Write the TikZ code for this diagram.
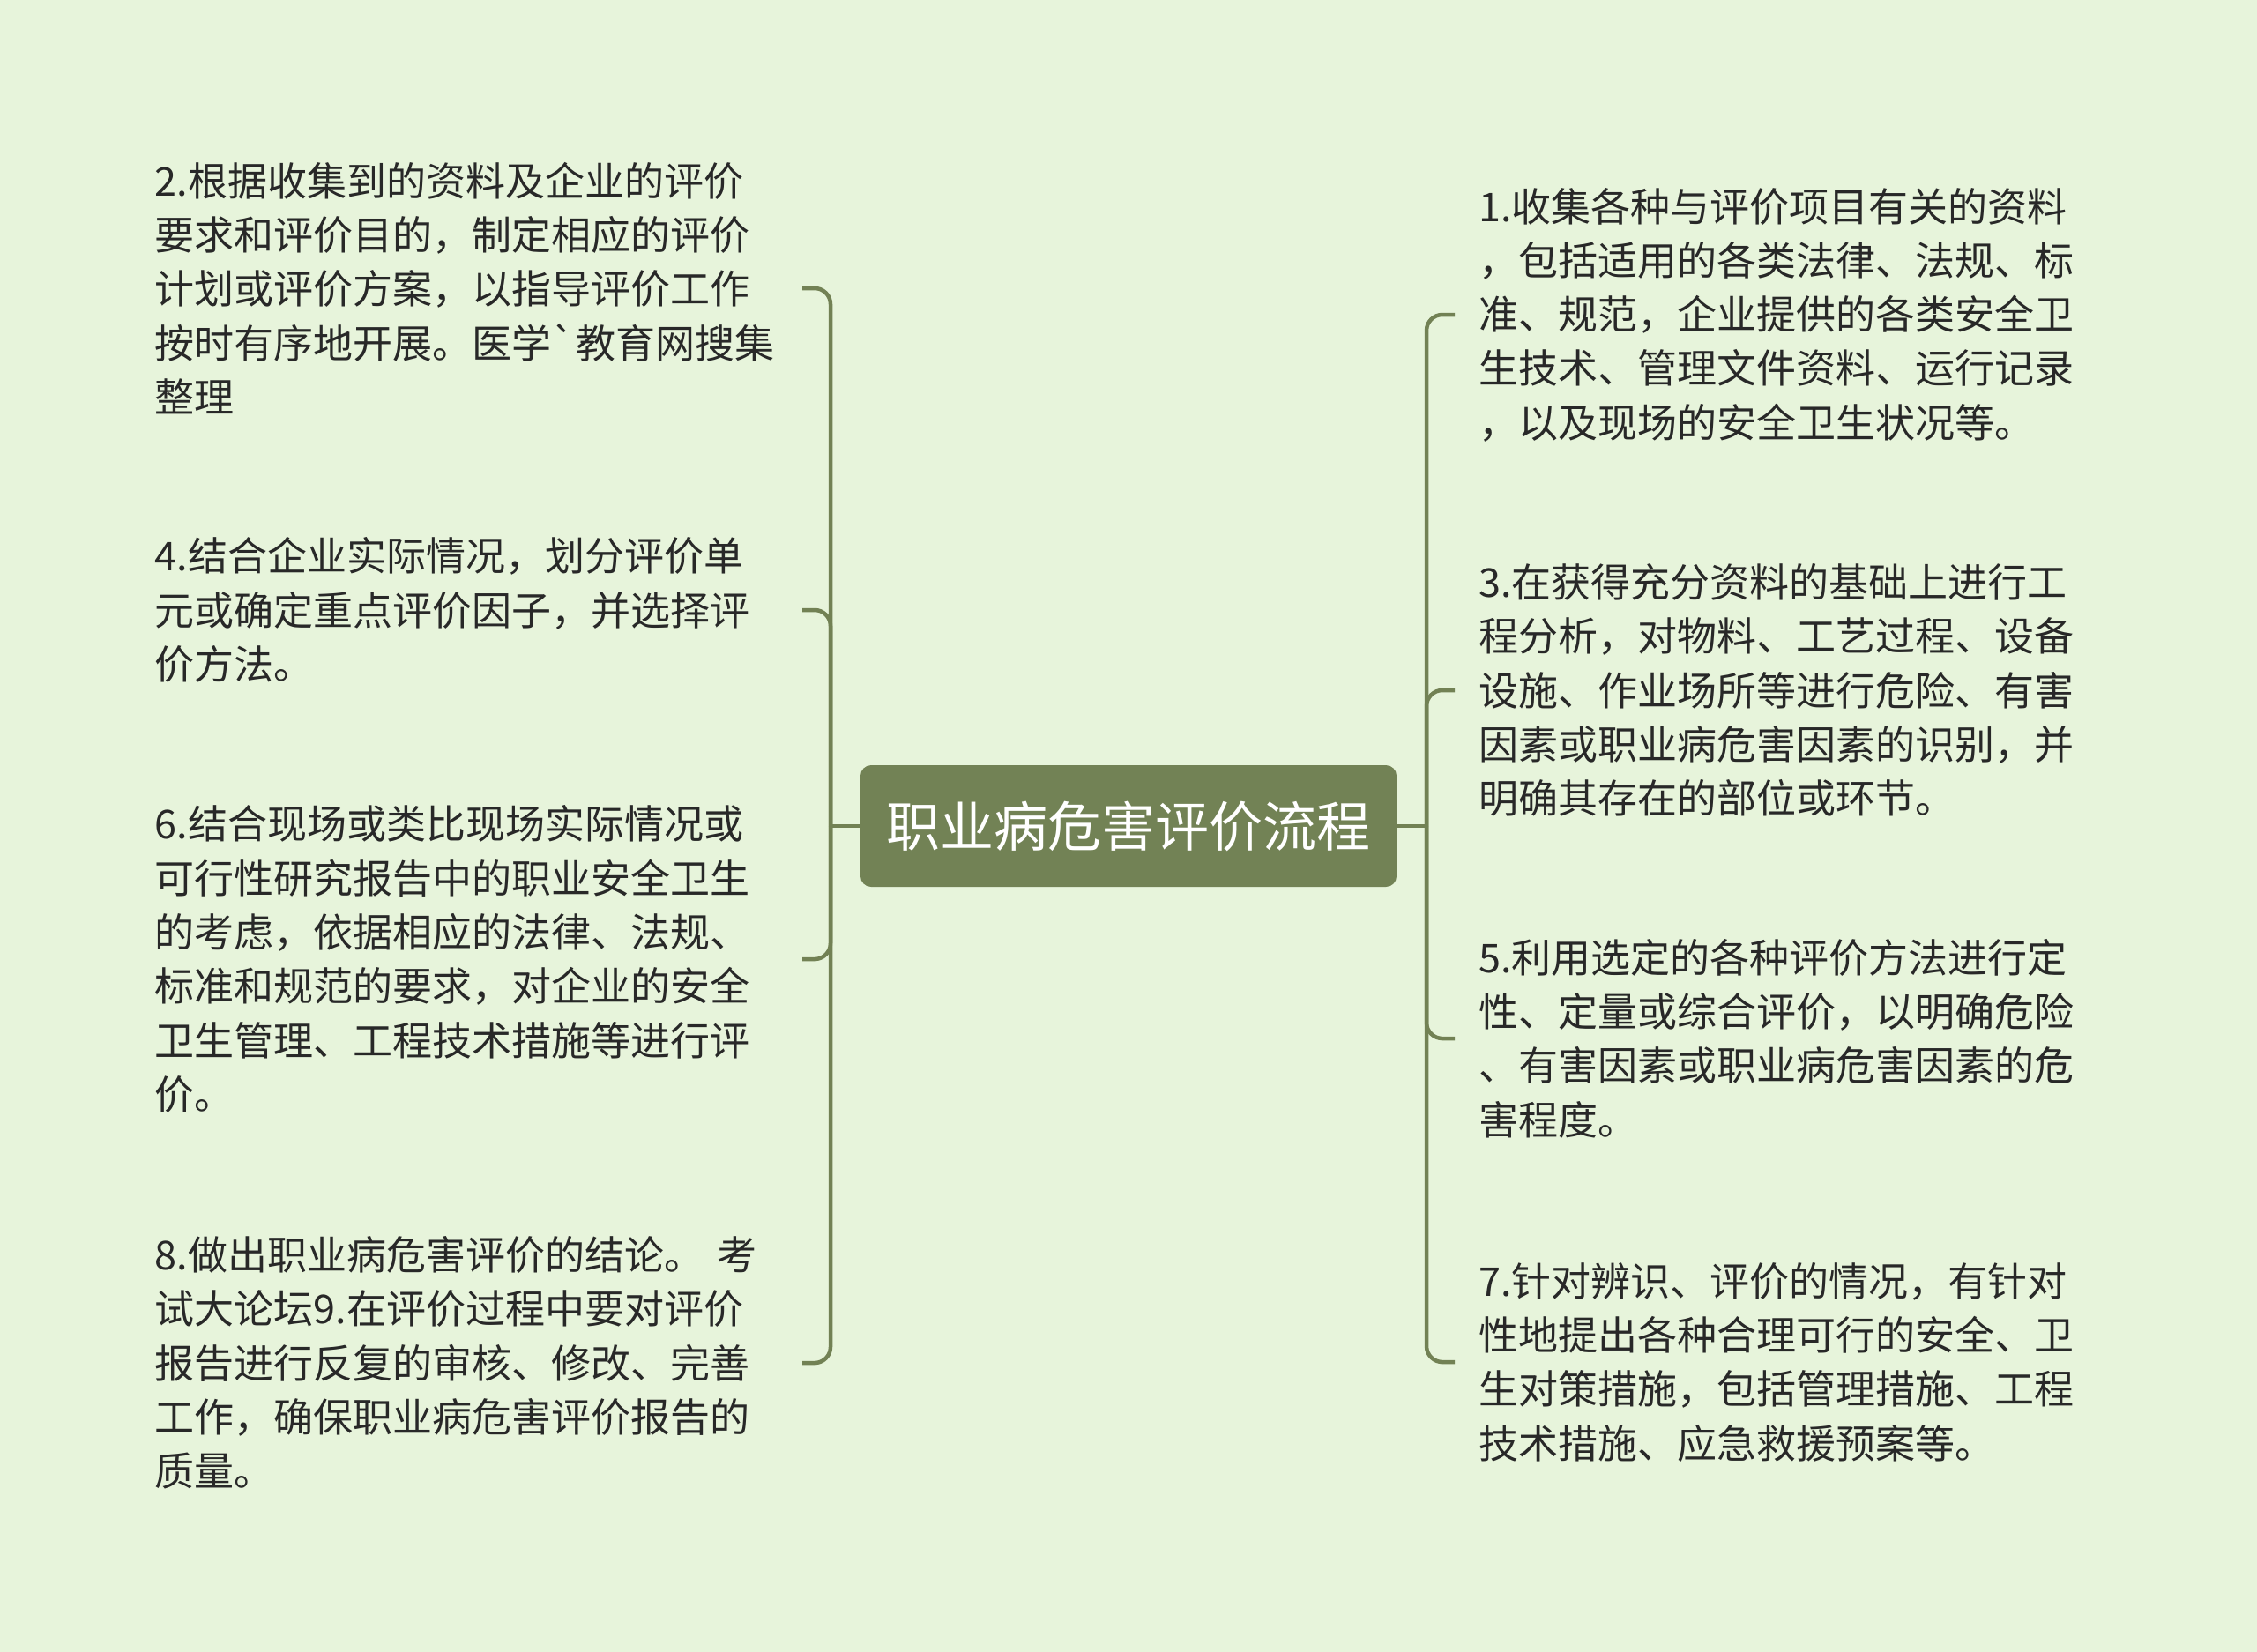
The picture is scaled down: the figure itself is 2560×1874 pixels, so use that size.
\documentclass[tikz,border=0pt]{standalone}
\usepackage{fontspec}
\newfontfamily\cjk{Noto Sans CJK SC}
\definecolor{bgcol}{RGB}{231,244,219}
\definecolor{linecol}{RGB}{114,129,84}
\definecolor{boxcol}{RGB}{114,130,85}
\definecolor{txtcol}{RGB}{40,40,40}
\begin{document}
\begin{tikzpicture}[x=1pt,y=-1pt,
  conn/.style={draw=linecol,line width=4.5pt,rounded corners=18pt},
  stub/.style={draw=linecol,line width=4.5pt},
  titlebox/.style={fill=boxcol,rounded corners=12pt,minimum width=608pt,minimum height=138pt,
    inner sep=0pt,text=white,font=\cjk\fontsize{61}{74}\selectfont},
  lefttext/.style={anchor=east,inner sep=0pt,text width=734pt,align=left,text=txtcol,
    font=\cjk\fontsize{45}{61.3}\selectfont},
  righttext/.style={anchor=west,inner xsep=27pt,inner ysep=0pt,align=left,text=txtcol,
    font=\cjk\fontsize{45}{61.3}\selectfont}
]
\useasboundingbox (0,0) rectangle (2560,1874);
\fill[bgcol] (0,0) rectangle (2560,1874);

\node[titlebox] (title) at (1280,937) {职业病危害评价流程};

\coordinate (lj) at (942,937);
\coordinate (rj) at (1618,937);

% left texts
\node[lefttext] (L2) at (910,327) {2.根据收集到的资料及企业的评价\\要求和评价目的，制定相应的评价\\计划或评价方案，以指导评价工作\\按时有序地开展。医学`教育网搜集\\整理};
\node[lefttext] (L4) at (910,692) {4.结合企业实际情况，划分评价单\\元或确定重点评价因子，并选择评\\价方法。};
\node[lefttext] (L6) at (910,1088) {6.结合现场或类比现场实际情况或\\可行性研究报告中的职业安全卫生\\的考虑，依据相应的法律、法规、\\标准和规范的要求，对企业的安全\\卫生管理、工程技术措施等进行评\\价。};
\node[lefttext] (L8) at (910,1546) {8.做出职业病危害评价的结论。 考\\试大论坛9.在评价过程中要对评价\\报告进行反复的审核、修改、完善\\工作，确保职业病危害评价报告的\\质量。};

% right texts
\node[righttext] (R1) at (1650,357) {1.收集各种与评价项目有关的资料\\，包括适用的各类法律、法规、标\\准、规范，企业提供的各类安全卫\\生技术、管理文件资料、运行记录\\，以及现场的安全卫生状况等。};
\node[righttext] (R3) at (1650,783) {3.在获得充分资料的基础上进行工\\程分析，对物料、工艺过程、设备\\设施、作业场所等进行危险、有害\\因素或职业病危害因素的识别，并\\明确其存在的部位或环节。};
\node[righttext] (R5) at (1650,1178) {5.利用选定的各种评价方法进行定\\性、定量或综合评价，以明确危险\\、有害因素或职业病危害因素的危\\害程度。};
\node[righttext] (R7) at (1650,1545) {7.针对辨识、评价的情况，有针对\\性地提出各种合理可行的安全、卫\\生对策措施，包括管理措施、工程\\技术措施、应急救援预案等。};

% connectors
\draw[stub] (title.west) -- (lj);
\draw[stub] (title.east) -- (rj);
\draw[conn] (lj) |- (L2.east);
\draw[conn] (lj) |- (L4.east);
\draw[conn] (lj) |- (L6.east);
\draw[conn] (lj) |- (L8.east);
\draw[conn] (rj) |- (R1.west);
\draw[conn] (rj) |- (R3.west);
\draw[conn] (rj) |- (R5.west);
\draw[conn] (rj) |- (R7.west);
\end{tikzpicture}
\end{document}
